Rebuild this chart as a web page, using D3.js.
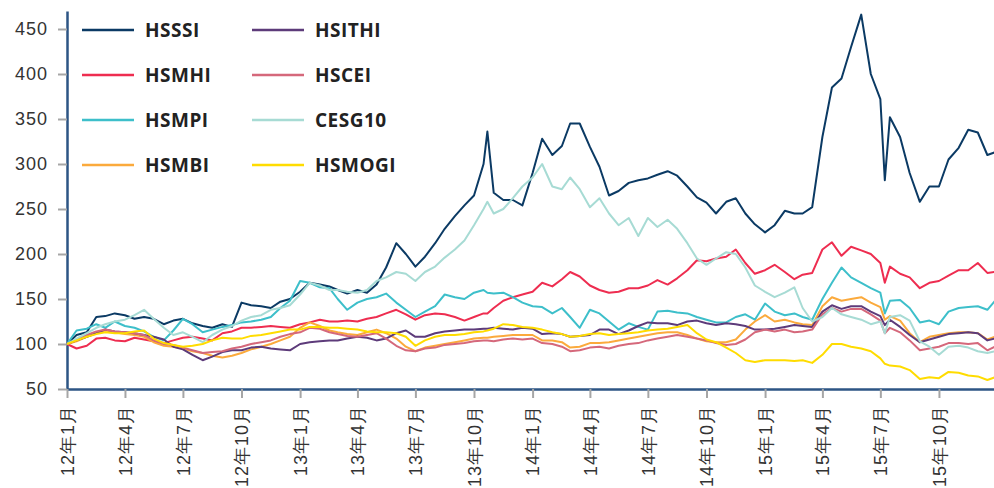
<!DOCTYPE html>
<html>
<head>
<meta charset="utf-8">
<script src="https://cdn.jsdelivr.net/npm/d3@7"></script>
<style>
    body { margin: 0; background: #fff; }
    svg { display: block; font-family: "Open Sans", "Noto Sans CJK JP", sans-serif; }
    .axis text { fill: #333; }
    .legend text { font-weight: bold; fill: #222; }
</style>
</head>
<body>
<script>
const WIDTH = 994
const HEIGHT = 488

// semi-monthly observation dates (plus two spike days)
var dates = [
    "2012-01-01","2012-01-16","2012-02-01","2012-02-16","2012-03-01","2012-03-16","2012-04-01","2012-04-16",
    "2012-05-01","2012-05-16","2012-06-01","2012-06-16","2012-07-01","2012-07-16","2012-08-01","2012-08-16",
    "2012-09-01","2012-09-16","2012-10-01","2012-10-16","2012-11-01","2012-11-16","2012-12-01","2012-12-16",
    "2013-01-01","2013-01-16","2013-02-01","2013-02-16","2013-03-01","2013-03-16","2013-04-01","2013-04-16",
    "2013-05-01","2013-05-16","2013-06-01","2013-06-16","2013-07-01","2013-07-16","2013-08-01","2013-08-16",
    "2013-09-01","2013-09-16","2013-10-01","2013-10-16","2013-10-22","2013-11-01","2013-11-16","2013-12-01","2013-12-16",
    "2014-01-01","2014-01-16","2014-02-01","2014-02-16","2014-03-01","2014-03-16","2014-04-01","2014-04-16",
    "2014-05-01","2014-05-16","2014-06-01","2014-06-16","2014-07-01","2014-07-16","2014-08-01","2014-08-16",
    "2014-09-01","2014-09-16","2014-10-01","2014-10-16","2014-11-01","2014-11-16","2014-12-01","2014-12-16",
    "2015-01-01","2015-01-16","2015-02-01","2015-02-16","2015-03-01","2015-03-16","2015-04-01","2015-04-16",
    "2015-05-01","2015-05-16","2015-06-01","2015-06-16","2015-07-01","2015-07-08","2015-07-16","2015-08-01",
    "2015-08-16","2015-09-01","2015-09-16","2015-10-01","2015-10-16","2015-11-01","2015-11-16","2015-12-01",
    "2015-12-16","2015-12-28"
]

var hsssi = [
    100,110,113,130,131,134,132,128,130,128,122,126,128,123,120,118,122,119,146,143,142,140,147,150,
    158,168,166,164,160,156,160,157,166,185,212,200,186,197,212,228,242,254,265,300,336,268,260,260,254,
    290,328,310,320,345,345,319,297,265,270,279,282,284,288,292,287,275,263,257,245,258,262,245,233,
    224,232,248,245,245,252,330,385,395,430,466,400,372,282,352,330,290,258,275,275,305,318,338,335,310,313
]
var hsmhi = [
    100,95,98,106,107,104,103,107,105,103,101,104,107,108,106,104,112,114,118,118,119,120,119,118,
    122,124,127,125,125,126,125,128,130,134,138,133,127,132,134,133,130,126,130,134,134,140,148,152,155,
    158,168,164,172,180,175,165,160,157,158,162,162,165,171,166,173,182,193,192,195,197,205,190,178,
    182,188,180,172,177,179,205,213,198,208,204,200,190,168,186,178,174,162,168,170,176,182,182,190,179,180
]
var hsmpi = [
    100,115,117,122,118,125,120,118,114,108,104,115,128,122,113,116,119,121,124,125,127,130,140,148,
    170,168,163,162,150,138,146,150,152,156,146,138,130,136,142,155,152,150,157,160,157,156,157,152,146,
    142,141,134,140,130,118,138,134,125,116,123,119,116,136,137,135,134,130,127,124,124,130,133,127,
    145,136,132,134,130,127,150,168,185,174,168,162,157,134,148,149,140,124,126,122,136,140,141,142,138,148
]
var hsmbi = [
    100,103,108,112,115,113,111,110,108,102,98,97,95,92,90,87,85,87,90,94,97,100,104,108,
    118,124,120,115,113,111,110,113,116,112,106,97,92,96,98,100,102,104,106,107,107,108,109,110,110,
    110,104,104,102,96,97,101,101,102,104,106,108,110,112,113,113,110,106,103,102,102,105,116,125,
    132,125,127,124,122,121,142,152,148,150,152,146,141,127,131,126,112,102,108,110,112,113,113,112,105,108
]
var hsithi = [
    100,104,108,112,116,114,113,112,110,108,105,97,94,88,82,86,91,93,93,96,97,95,94,93,
    100,102,103,104,104,106,108,107,104,106,112,115,108,108,112,114,115,116,116,117,117,118,117,116,118,
    117,111,112,111,108,109,110,116,116,111,115,120,124,123,123,121,125,126,123,121,123,122,120,116,
    116,117,119,121,120,119,136,143,139,142,142,136,131,121,127,119,110,102,105,108,111,112,113,112,104,106
]
var hscei = [
    100,104,110,114,116,114,113,112,110,104,100,99,96,93,90,91,92,95,97,100,102,104,108,111,
    113,118,117,113,111,109,108,110,112,106,98,93,92,95,96,99,100,101,103,104,104,103,105,106,105,
    106,101,100,97,92,93,96,97,95,98,100,101,104,106,108,110,108,106,104,101,99,100,105,113,
    116,114,116,113,114,116,133,140,136,139,139,133,126,112,118,113,104,93,95,97,101,101,100,101,93,97
]
var cesg10 = [
    100,106,112,118,122,125,127,132,138,128,118,110,113,108,102,110,116,120,126,130,132,138,140,143,
    155,168,165,160,160,158,157,160,170,174,180,178,170,180,186,196,205,215,232,250,258,245,250,262,275,
    285,300,275,272,285,272,252,262,245,232,240,220,240,230,238,228,212,195,188,195,202,200,185,165,
    158,152,157,163,140,125,130,140,133,130,127,122,125,112,130,132,126,103,97,88,97,98,96,92,90,92
]
var hsmogi = [
    100,104,108,111,113,112,112,114,115,106,101,99,97,98,100,104,107,106,106,109,110,112,114,116,
    116,119,119,118,118,117,116,114,113,113,112,108,98,104,108,110,110,111,113,114,115,117,122,121,119,
    118,116,113,111,108,109,111,112,110,111,112,113,115,116,117,119,121,112,105,102,96,90,82,80,
    82,82,82,81,82,79,88,100,100,97,95,92,84,78,76,75,71,61,63,62,69,68,65,64,60,63
]

var seriesNames = ["HSSSI","HSMHI","HSMPI","HSMBI","HSITHI","HSCEI","CESG10","HSMOGI"]
var seriesValues = [hsssi, hsmhi, hsmpi, hsmbi, hsithi, hscei, cesg10, hsmogi]
var seriesColors = ["#0b3a64","#ee2d50","#3dbfca","#fbaa3c","#5d3b7a","#d5687b","#a7dbd4","#ffdc00"]
var yTicks = [50,100,150,200,250,300,350,400,450]

var parseDate = d3.timeParse("%Y-%m-%d")

var createChart = function(){
    var svg = d3.select("body").append("svg")
        .attr("width", WIDTH)
        .attr("height", HEIGHT);

    var x = d3.scaleTime()
        .domain([parseDate(dates[0]), parseDate(dates[dates.length-1])])
        .range([67, 995]);
    var y = d3.scaleLinear()
        .domain([50, 470])
        .range([389, 11]);

    createYAxis(svg, y);
    createXAxis(svg, x);
    createLines(svg, x, y);
    createLegend(svg);
}

var createYAxis = function(svg, y){
    var g = svg.append("g")
        .classed("axis", true)
        .attr("transform", "translate(67,0)")
        .call(d3.axisLeft(y).tickValues(yTicks).tickSize(9).tickSizeOuter(0).tickPadding(10));
    g.select(".domain").attr("stroke", "#2d5584").attr("stroke-width", 2.5);
    g.selectAll(".tick line").attr("stroke", "#a6a6a6").attr("stroke-width", 2);
    g.selectAll(".tick text")
        .style("font-size", "18px")
        .style("letter-spacing", "1px");
}

var createXAxis = function(svg, x){
    var fmt = function(d){
        return (d.getFullYear() % 100) + "年" + (d.getMonth() + 1) + "月";
    }
    var g = svg.append("g")
        .classed("axis", true)
        .attr("transform", "translate(0,389)")
        .call(d3.axisBottom(x).ticks(d3.timeMonth.every(3)).tickFormat(fmt).tickSize(9).tickSizeOuter(0));
    g.select(".domain").attr("stroke", "#2d5584").attr("stroke-width", 2.5);
    g.selectAll(".tick line").attr("stroke", "#a6a6a6").attr("stroke-width", 2);
    g.selectAll(".tick text")
        .attr("transform", "rotate(-90)")
        .attr("x", -16)
        .attr("y", 0)
        .attr("dy", "0.35em")
        .style("text-anchor", "end")
        .style("font-size", "18px")
        .style("letter-spacing", "1px");
}

var createLines = function(svg, x, y){
    var line = d3.line()
        .x(function(d, i){ return x(parseDate(dates[i])); })
        .y(function(d){ return y(d); });
    svg.append("g").selectAll("path")
        .data(seriesValues)
        .join("path")
        .attr("d", line)
        .attr("fill", "none")
        .attr("stroke", function(d, i){ return seriesColors[i]; })
        .attr("stroke-width", 2)
        .attr("stroke-linejoin", "round");
}

var createLegend = function(svg){
    var legend = svg.append("g").classed("legend", true);
    var item = legend.selectAll("g")
        .data(seriesNames)
        .join("g")
        .attr("transform", function(d, i){
            var col = i < 4 ? 0 : 1;
            return "translate(" + (82 + col*170) + "," + (30 + (i % 4)*45) + ")";
        });
    item.append("line")
        .attr("x1", 0).attr("x2", 52)
        .attr("stroke", function(d, i){ return seriesColors[i]; })
        .attr("stroke-width", 2.5);
    item.append("text")
        .attr("x", 63)
        .attr("dy", "0.35em")
        .style("font-size", "19px")
        .style("letter-spacing", "0.5px")
        .text(function(d){ return d; });
}

createChart();
</script>
</body>
</html>
